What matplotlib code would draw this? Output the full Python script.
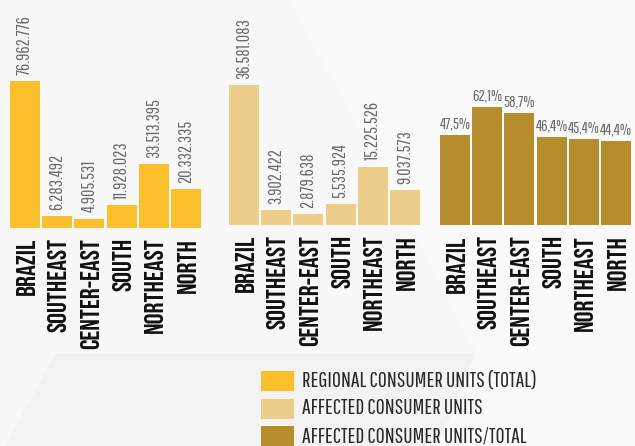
import matplotlib
matplotlib.use("Agg")
import matplotlib.pyplot as plt
from matplotlib.patches import Polygon, Rectangle

regions = ["BRAZIL", "SOUTHEAST", "CENTER-EAST", "SOUTH", "NORTHEAST", "NORTH"]
total_units = [76962776, 6283492, 4905531, 11928023, 33513395, 20332335]
affected_units = [36581083, 3902422, 2879638, 5535924, 15225526, 9037573]
affected_share = [47.5, 62.1, 58.7, 46.4, 45.4, 44.4]
legend_labels = ["REGIONAL CONSUMER UNITS (TOTAL)", "AFFECTED CONSUMER UNITS",
                 "AFFECTED CONSUMER UNITS/TOTAL"]
colors = ["#FBBF2B", "#EDCD8A", "#B58D2D"]

W, H = 635, 446
fig = plt.figure(figsize=(W / 100, H / 100), dpi=100)
fig.patch.set_facecolor("#f8f8f8")


def fpoly(pts, color):
    fig.add_artist(Polygon([(x / W, 1 - y / H) for x, y in pts], closed=True,
                           transform=fig.transFigure, facecolor=color,
                           edgecolor="none", zorder=0))


# decorative background shapes
fpoly([(290, 0), (635, 0), (635, 446), (437, 446), (476, 353)], "#fafafa")
fpoly([(55, 353), (476, 353), (437, 446), (6, 446)], "#f3f3f3")

CAT_FONT = "Bebas Neue"
VAL_FONT = "Pathway Gothic One"


def fmt_int(v):
    return f"{v:,}".replace(",", ".")


def fmt_pct(v):
    return f"{v:.1f}".replace(".", ",") + "%"


# (left px, right px, baseline px, values, ylim_top)
panels = [
    (9, 202, 228, total_units, 228 / (147 / 76.962776) * 1e6),
    (228, 421, 225, affected_units, 225 / (140 / 36.581083) * 1e6),
    (439, 632, 225.5, affected_share, 225.5 / (118.5 / 62.1)),
]

for i, (l, r, base, vals, ytop) in enumerate(panels):
    ax = fig.add_axes([l / W, 1 - base / H, (r - l) / W, base / H])
    ax.set_facecolor("none")
    x = list(range(len(regions)))
    ax.bar(x, vals, width=0.93, color=colors[i], zorder=2)
    ax.set_xlim(-0.5, len(regions) - 0.5)
    ax.set_ylim(0, ytop)
    ax.axis("off")
    for xi, v in zip(x, vals):
        if i < 2:
            ax.annotate(fmt_int(v), (xi, v), xytext=(0, 4.5), textcoords="offset points",
                        rotation=90, ha="center", va="bottom", fontsize=13,
                        family=VAL_FONT, color="#6a6a6a")
        else:
            ax.annotate(fmt_pct(v), (xi, v), xytext=(0, 3), textcoords="offset points",
                        ha="center", va="bottom", fontsize=11.5,
                        family=VAL_FONT, color="#6a6a6a")
        ax.annotate(regions[xi], (xi, 0), xytext=(0, -7), textcoords="offset points",
                    rotation=90, ha="center", va="top", fontsize=19.5,
                    family=CAT_FONT, color="#111111", annotation_clip=False)

# legend
for k, lab in enumerate(legend_labels):
    top = 371 + k * 27.5
    fig.add_artist(Rectangle((261 / W, 1 - (top + 20) / H), 33 / W, 20 / H,
                             transform=fig.transFigure, facecolor=colors[k],
                             edgecolor="none"))
    fig.text(302 / W, 1 - (top + 10) / H, lab, ha="left", va="center",
             fontsize=15.8, family=VAL_FONT, color="#2a2a2a")

fig.savefig("out.png", dpi=100, facecolor=fig.get_facecolor())
